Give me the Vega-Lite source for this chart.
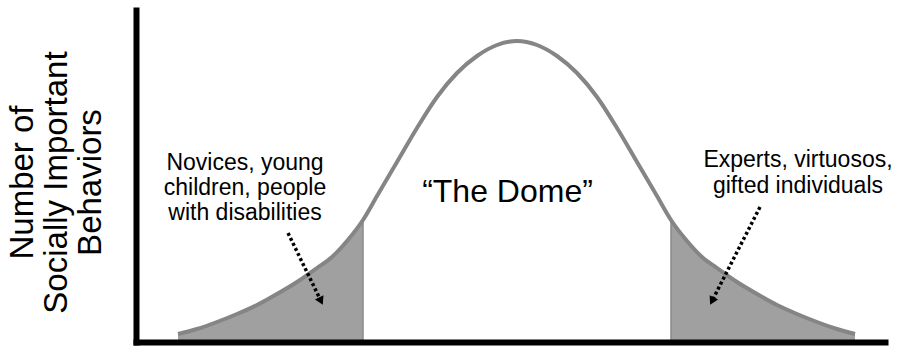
{
  "$schema": "https://vega.github.io/schema/vega-lite/v6.json",
  "width": 749,
  "height": 332,
  "autosize": "none",
  "padding": {"left": 136, "top": 10, "right": 14, "bottom": 7},
  "background": "white",
  "config": {"view": {"stroke": null}, "font": "Liberation Sans"},
  "datasets": {
    "curve": [
      {"x": 42, "y": 8, "tail": "left"},
      {"x": 61, "y": 13, "tail": "left"},
      {"x": 81, "y": 20, "tail": "left"},
      {"x": 101, "y": 28, "tail": "left"},
      {"x": 121, "y": 37, "tail": "left"},
      {"x": 141, "y": 48, "tail": "left"},
      {"x": 161, "y": 60, "tail": "left"},
      {"x": 181, "y": 74, "tail": "left"},
      {"x": 196, "y": 85, "tail": "left"},
      {"x": 211, "y": 101, "tail": "left"},
      {"x": 227, "y": 122, "tail": "left"},
      {"x": 241, "y": 146, "tail": "none"},
      {"x": 261, "y": 180, "tail": "none"},
      {"x": 281, "y": 214, "tail": "none"},
      {"x": 301, "y": 245, "tail": "none"},
      {"x": 321, "y": 269, "tail": "none"},
      {"x": 341, "y": 286, "tail": "none"},
      {"x": 361, "y": 297, "tail": "none"},
      {"x": 381, "y": 301, "tail": "none"},
      {"x": 401, "y": 297, "tail": "none"},
      {"x": 421, "y": 286, "tail": "none"},
      {"x": 441, "y": 269, "tail": "none"},
      {"x": 461, "y": 245, "tail": "none"},
      {"x": 481, "y": 214, "tail": "none"},
      {"x": 501, "y": 180, "tail": "none"},
      {"x": 521, "y": 146, "tail": "none"},
      {"x": 535, "y": 122, "tail": "right"},
      {"x": 551, "y": 101, "tail": "right"},
      {"x": 566, "y": 85, "tail": "right"},
      {"x": 581, "y": 74, "tail": "right"},
      {"x": 601, "y": 60, "tail": "right"},
      {"x": 621, "y": 48, "tail": "right"},
      {"x": 641, "y": 37, "tail": "right"},
      {"x": 661, "y": 28, "tail": "right"},
      {"x": 681, "y": 20, "tail": "right"},
      {"x": 701, "y": 13, "tail": "right"},
      {"x": 719, "y": 8, "tail": "right"}
    ],
    "bounds": [
      {"x": 227, "y": 122},
      {"x": 535, "y": 122}
    ],
    "arrows": [
      {"x": 152, "y": 109, "x2": 185, "y2": 41, "angle": -26},
      {"x": 624, "y": 135, "x2": 576, "y2": 41, "angle": 27}
    ],
    "labels": [
      {"x": 109, "y": 172, "text": "Novices, young", "size": "small"},
      {"x": 109, "y": 147, "text": "children, people", "size": "small"},
      {"x": 109, "y": 122, "text": "with disabilities", "size": "small"},
      {"x": 662, "y": 175, "text": "Experts, virtuosos,", "size": "small"},
      {"x": 662, "y": 149, "text": "gifted individuals", "size": "small"},
      {"x": 371.5, "y": 140, "text": "“The Dome”", "size": "big"}
    ]
  },
  "layer": [
    {
      "data": {"name": "curve"},
      "transform": [{"filter": "datum.tail !== 'none'"}],
      "mark": {"type": "area", "color": "#a0a0a0", "interpolate": "monotone", "opacity": 1},
      "encoding": {
        "x": {
          "field": "x", "type": "quantitative",
          "scale": {"domain": [0, 749], "nice": false, "zero": false},
          "axis": {"title": null, "labels": false, "ticks": false, "grid": false, "domain": true, "domainColor": "black", "domainWidth": 6, "domainCap": "square", "zindex": 1}
        },
        "y": {
          "field": "y", "type": "quantitative", "stack": null,
          "scale": {"domain": [0, 332], "nice": false, "zero": false},
          "axis": {
            "title": ["Number of", "Socially Important", "Behaviors"],
            "titleFont": "Liberation Sans", "titleFontSize": 33, "titleFontWeight": "normal", "titleColor": "black",
            "titleAngle": -90, "titleAlign": "center", "titleBaseline": "alphabetic",
            "titleX": -104, "titleY": 172, "titleLineHeight": 34,
            "labels": false, "ticks": false, "grid": false, "domain": true, "domainColor": "black", "domainWidth": 6, "domainCap": "square", "zindex": 1
          }
        },
        "detail": {"field": "tail", "type": "nominal"}
      }
    },
    {
      "data": {"name": "bounds"},
      "mark": {"type": "rule", "color": "#8a8a8a", "strokeWidth": 1.5},
      "encoding": {
        "x": {"field": "x", "type": "quantitative"},
        "y": {"field": "y", "type": "quantitative"},
        "y2": {"datum": 0}
      }
    },
    {
      "data": {"name": "curve"},
      "mark": {"type": "line", "color": "#858585", "strokeWidth": 4, "interpolate": "monotone"},
      "encoding": {
        "x": {"field": "x", "type": "quantitative"},
        "y": {"field": "y", "type": "quantitative"}
      }
    },
    {
      "data": {"name": "arrows"},
      "mark": {"type": "rule", "color": "black", "strokeWidth": 3.5, "strokeDash": [3, 2.6]},
      "encoding": {
        "x": {"field": "x", "type": "quantitative"},
        "y": {"field": "y", "type": "quantitative"},
        "x2": {"field": "x2"},
        "y2": {"field": "y2"}
      }
    },
    {
      "data": {"name": "arrows"},
      "mark": {"type": "point", "shape": "triangle-down", "filled": true, "color": "black", "size": 90, "opacity": 1},
      "encoding": {
        "x": {"field": "x2", "type": "quantitative"},
        "y": {"field": "y2", "type": "quantitative"},
        "angle": {"field": "angle", "type": "quantitative", "scale": null}
      }
    },
    {
      "data": {"name": "labels"},
      "mark": {"type": "text", "align": "center", "baseline": "alphabetic", "color": "black", "font": "Liberation Sans"},
      "encoding": {
        "x": {"field": "x", "type": "quantitative"},
        "y": {"field": "y", "type": "quantitative"},
        "text": {"field": "text"},
        "size": {"field": "size", "type": "nominal", "scale": {"domain": ["small", "big"], "range": [23, 32]}, "legend": null}
      }
    }
  ]
}
